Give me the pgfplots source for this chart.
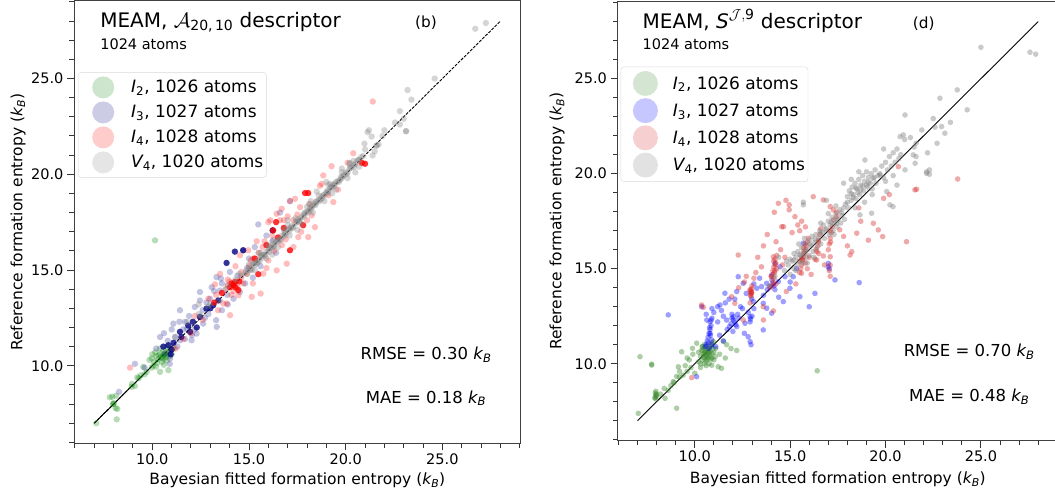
\documentclass[border=0pt]{standalone}
\usepackage{fontspec}
\setmainfont{DejaVu Sans}
\usepackage{amsmath}
\usepackage{pgfplots}
\pgfplotsset{compat=1.18}
\definecolor{lgreen}{HTML}{008000}
\definecolor{lnavy}{HTML}{000080}
\definecolor{lred}{HTML}{FF0000}
\definecolor{lgray}{HTML}{808080}
\definecolor{rgreen}{HTML}{3C8A2E}
\definecolor{rblue}{HTML}{0000FF}
\definecolor{rred}{HTML}{D62728}
\definecolor{rgray}{HTML}{808080}
\newcommand{\kB}{$\textit{k}_{\textit{B}}$}
\pgfplotsset{
  myaxis/.style={
    scale only axis,
    xmin=5.95,xmax=29.05,ymin=5.95,ymax=29.05,
    xtick={10,15,20,25}, ytick={10,15,20,25},
    minor xtick={6,...,29}, minor ytick={6,...,29},
    tick align=outside, xtick pos=left, ytick pos=left,
    major tick length=7pt, minor tick length=4.5pt,
    every tick/.style={black!80, line width=1pt},
    axis line style={black!75, line width=1pt},
    tick label style={font=\fontsize{14.5}{17}\selectfont},
    /pgf/number format/fixed, /pgf/number format/fixed zerofill,
    /pgf/number format/precision=1, /pgf/number format/assume math mode=true,
    label style={font=\fontsize{15.5}{18}\selectfont},
    legend cell align=left,
  },
  lmk/.style 2 args={color=#1, only marks, mark=*, mark size=3.2pt, mark options={solid, fill=#1, draw opacity=0, fill opacity=#2}},
  lmkd/.style={color=#1, only marks, mark=*, mark size=3.2pt, mark options={solid, fill=#1, draw opacity=0, fill opacity=0.8}, forget plot},
  rmk/.style 2 args={color=#1, only marks, mark=*, mark size=2.8pt, mark options={solid, fill=#1, draw opacity=0, fill opacity=#2}},
  limg/.style={legend image code/.code={\path[draw=none,fill=none] (0pt,-12.5pt) rectangle (50pt,12.5pt); \fill[#1,fill opacity=0.2,draw=none] (24pt,0pt) circle (11pt);}},
  rimg/.style={legend image code/.code={\path[draw=none,fill=none] (0pt,-13.6pt) rectangle (49pt,13.6pt); \fill[#1,fill opacity=0.22,draw=none] (23.5pt,0pt) circle (12.5pt);}},
}
\begin{document}
\begin{tikzpicture}
%%%%%%%%%%%%%%%% LEFT PANEL (b)
\begin{axis}[myaxis, at={(74pt,54.7pt)}, anchor=south west, width=446.7pt, height=442.3pt,
  xlabel={Bayesian fitted formation entropy (\kB)},
  ylabel={Reference formation entropy (\kB)},
  xlabel style={at={(axis description cs:0.5,-0.094)}, anchor=base},
  ylabel style={at={(axis description cs:-0.1254,0.5)}, anchor=center},
  legend style={at={(axis description cs:0.009,0.839)}, anchor=north west, draw=black!15, rounded corners=3pt,
    fill=white, fill opacity=0.8, text opacity=1, font=\fontsize{17}{20}\selectfont, inner xsep=1pt, inner ysep=2.5pt},
]
\addplot[lmk={lgreen}{0.28}, limg=lgreen] coordinates {
(7.1,7.0)(7.98,8.0)(7.98,8.0)(8.0,8.05)(8.12,8.43)(7.93,8.38)(8.19,7.75)(8.16,7.2)(8.1,7.78)(7.8,8.35)
(8.93,8.9)(9.1,8.94)(8.95,9.05)(9.22,9.39)(9.3,9.35)(9.53,9.94)(9.71,9.68)(9.6,9.55)(9.97,10.38)(9.97,9.9)
(10.2,10.5)(10.4,10.64)(10.57,10.8)(10.74,10.27)(10.4,9.68)(10.83,9.77)(10.1,10.2)(10.3,10.35)(10.45,10.45)(10.55,10.5)
(10.6,10.6)(10.65,10.55)(10.7,10.7)(10.5,10.4)(10.35,10.55)(10.8,10.6)(10.85,10.75)(10.9,10.5)(10.6,10.35)(10.25,10.15)
(10.0,10.6)(10.15,10.7)(10.5,10.2)(10.7,10.45)(10.95,10.85)(11.0,10.6)(10.4,10.9)(10.75,11.0)(9.85,10.3)(10.05,10.0)
(10.2,9.95)(10.6,10.05)(11.1,10.9)(9.4,9.5)(10.14,16.55)
};
\addlegendentry{$\textit{I}_{\text{2}}$, 1026 atoms}
\addplot[lmk={lnavy}{0.24}, limg=lnavy] coordinates {
(8.28,8.64)(9.1,10.1)(9.6,9.9)(10.4,11.5)(10.66,10.64)(10.92,10.38)(11.17,11.5)(11.09,12.2)(11.43,11.33)(11.69,11.4)
(12.03,11.33)(12.29,11.68)(12.63,12.2)(11.43,12.9)(11.69,12.29)(12.46,13.41)(12.98,13.5)(13.5,13.93)(14.19,14.28)(14.01,14.9)
(13.32,14.63)(14.53,13.85)(13.33,12.03)(13.3,12.38)(13.88,13.7)(12.72,12.5)(12.2,13.07)(11.8,11.95)(12.05,11.6)(13.55,14.55)
(13.07,14.1)(12.46,13.85)(15.48,17.38)(16.25,16.55)(17.12,18.6)(16.6,18.0)(14.7,16.03)(15.0,15.6)(15.3,16.2)(15.6,15.2)
(14.8,14.3)(14.4,14.7)(13.9,13.2)(13.6,12.9)(12.9,12.7)(12.6,12.9)(11.9,12.6)(11.3,11.0)(11.6,11.9)(10.8,11.3)
(10.2,10.9)(10.6,11.7)(12.2,11.9)(12.8,13.3)(13.2,13.9)(14.9,15.1)(15.9,16.8)(16.4,15.9)(15.2,14.6)(10.9,10.1)
(11.4,12.3)(11.0,11.9)(13.6,14.3)(14.2,13.5)
};
\addlegendentry{$\textit{I}_{\text{3}}$, 1027 atoms}
\addplot[lmkd=lnavy] coordinates {
(11.0,10.85)(10.83,11.07)(10.57,11.0)(11.43,11.77)(11.95,11.77)(11.86,12.1)(12.46,12.55)(12.8,12.98)(13.15,13.16)(13.41,13.41)
(13.84,15.37)(14.27,15.96)(16.22,17.07)(11.1,11.2)(10.95,10.6)(12.1,12.3)(13.0,13.0)(11.5,11.5)(12.3,12.0)(14.7,16.03)
};
\addplot[lmk={lred}{0.26}, limg=lred] coordinates {
(8.85,9.9)(17.12,18.6)(20.39,21.1)(18.84,19.94)(19.36,18.55)(19.1,18.9)(18.15,18.45)(18.06,16.72)(17.55,16.72)(17.3,16.2)
(16.95,15.33)(16.43,14.98)(15.74,14.81)(15.6,13.77)(15.14,13.6)(14.45,13.68)(14.02,12.64)(13.85,13.25)(13.24,14.25)(13.5,14.8)
(14.53,15.77)(14.96,16.03)(15.22,15.6)(16.0,17.5)(16.43,17.94)(16.69,18.2)(17.38,18.72)(17.64,18.28)(18.24,17.85)(18.41,17.24)
(13.68,13.25)(19.27,20.42)(18.76,19.5)(18.67,19.4)(21.4,23.8)(16.1,17.6)(16.6,17.6)(15.0,15.2)(15.5,15.9)(16.0,15.5)
(16.9,16.6)(17.5,17.9)(18.0,17.6)(13.9,14.5)(14.7,14.3)(14.9,14.8)(15.8,16.5)(16.3,16.0)(12.9,13.5)(13.4,12.9)
(12.6,12.4)(12.0,11.7)(11.2,10.9)(14.1,13.7)(14.6,14.9)(15.2,14.3)(15.9,15.1)(16.7,16.3)(17.7,17.0)(19.6,19.2)
(20.1,20.6)(17.0,17.8)(15.4,16.5)(14.3,15.2)(13.8,14.0)(13.3,13.7)(12.2,12.6)(11.6,11.4)
(14.0,14.4)(14.4,14.1)(14.2,13.9)(13.9,14.2)(14.6,14.6)(15.1,15.5)(16.2,16.8)(16.8,17.6)(17.3,17.6)(15.7,16.2)
};
\addlegendentry{$\textit{I}_{\text{4}}$, 1028 atoms}
\addplot[lmkd=lred] coordinates {
(14.02,14.11)(14.28,14.38)(14.45,13.95)(14.1,14.3)(14.3,14.1)(14.2,14.2)(14.5,14.4)(15.48,14.78)(16.25,17.07)(16.5,16.7)
(17.12,16.03)(17.8,17.34)(18.06,19.02)(21.0,20.55)(20.83,20.6)(17.9,19.02)(16.4,17.5)(15.3,15.6)(13.6,13.8)(15.9,16.3)
(16.8,17.2)(13.2,13.3)
};
\addplot[lmk={lgray}{0.33}, limg=lgray] coordinates {
(14.8,14.85)(14.9,14.8)(15.0,15.1)(15.1,15.05)(15.15,15.0)(15.2,15.3)(15.3,15.25)(15.35,15.4)(15.4,15.35)(15.5,15.55)
(15.55,15.45)(15.6,15.7)(15.7,15.65)(15.75,15.8)(15.8,15.75)(15.9,15.95)(16.0,16.05)(16.05,15.95)(16.1,16.2)(16.2,16.15)
(16.25,16.35)(16.3,16.25)(16.4,16.45)(16.5,16.5)(16.55,16.6)(16.6,16.55)(16.7,16.8)(16.8,16.75)(16.85,16.95)(16.9,16.85)
(17.0,17.1)(17.1,17.05)(17.15,17.2)(17.2,17.3)(17.3,17.25)(17.4,17.45)(17.5,17.5)(17.55,17.65)(17.6,17.55)(17.7,17.75)
(17.8,17.85)(17.85,17.8)(17.9,18.0)(18.0,18.05)(18.1,18.1)(18.15,18.25)(18.2,18.15)(18.3,18.35)(18.4,18.45)(18.45,18.4)
(18.5,18.6)(18.6,18.65)(18.7,18.7)(18.75,18.85)(18.8,18.75)(18.9,18.95)(19.0,19.05)(19.05,19.15)(19.1,19.1)(19.2,19.3)
(19.3,19.3)(19.35,19.45)(19.4,19.4)(19.5,19.6)(19.6,19.65)(19.7,19.7)(19.75,19.85)(19.8,19.8)(19.9,19.95)(20.0,20.1)
(20.1,20.1)(20.2,20.3)(20.3,20.35)(20.4,20.5)(20.5,20.55)(20.6,20.7)(20.7,20.75)(20.8,20.9)(20.9,20.95)
(14.85,14.95)(15.05,15.0)(15.25,15.35)(15.45,15.4)(15.65,15.75)(15.85,15.8)(16.05,16.15)(16.25,16.2)(16.45,16.55)(16.65,16.6)
(16.85,16.9)(17.05,17.15)(17.25,17.2)(17.45,17.55)(17.65,17.6)(17.85,17.95)(18.05,18.0)(18.25,18.3)(18.45,18.55)(18.65,18.6)
(18.85,18.9)(19.05,19.0)(19.25,19.35)(19.45,19.5)(19.65,19.6)(19.85,19.9)(20.05,20.0)(20.25,20.35)(20.45,20.4)(20.65,20.75)
(15.0,15.3)(15.3,15.0)(15.6,15.9)(15.9,15.6)(16.2,16.5)(16.5,16.2)(16.8,17.1)(17.1,16.8)(17.4,17.7)(17.7,17.4)
(18.0,18.3)(18.3,18.0)(18.6,18.9)(18.9,18.6)(19.2,19.5)(19.5,19.2)(19.8,20.1)(20.1,19.8)(20.4,20.7)(20.7,20.4)
(16.0,16.3)(17.0,17.35)(18.1,18.45)(19.1,19.45)(20.2,20.55)(14.6,14.7)(14.3,14.5)(13.9,14.2)(13.5,13.4)(13.0,13.2)
(12.4,12.7)(11.8,12.3)(11.2,11.5)(12.4,13.2)
(15.5,15.9)(16.2,15.8)(17.0,17.6)(18.2,18.6)(19.3,19.0)(19.8,20.3)(20.2,20.6)(20.5,20.1)(14.5,14.8)(13.8,14.0)
(12.9,13.1)(12.5,12.6)(18.5,19.1)(19.0,19.6)(17.5,17.1)
(21.2,22.3)(21.34,21.97)(21.7,21.56)(20.97,21.6)(22.55,22.7)(22.8,22.6)(22.8,23.3)(23.2,24.4)(23.4,23.9)(24.6,25.0)
(26.7,27.6)(27.25,27.9)(21.0,21.3)(21.5,21.2)(22.0,22.3)(23.0,22.9)(21.9,22.0)(23.12,22.25)(23.12,22.25)(21.13,22.2)
(21.6,21.5)(21.6,21.5)(21.39,20.98)
};
\addlegendentry{$\textit{V}_{\text{4}}$, 1020 atoms}
\addplot[black, line width=0.9pt, dash pattern=on 3pt off 1.3pt, forget plot] coordinates {(7,7)(28,28)};
\addplot[black, line width=0.9pt, forget plot] coordinates {(7,7)(10.4,10.4)};
\node[anchor=base west, font=\fontsize{20}{24}\selectfont] at (axis description cs:0.051,0.941) {MEAM, $\mathcal{A}_{\text{20,\,10}}$ descriptor};
\node[anchor=base, font=\fontsize{15.3}{18}\selectfont] at (axis description cs:0.788,0.939) {(b)};
\node[anchor=base west, font=\fontsize{14.5}{17}\selectfont] at (axis description cs:0.051,0.891) {1024 atoms};
\node[anchor=center, font=\fontsize{16.5}{20}\selectfont] at (axis description cs:0.788,0.2) {RMSE = 0.30 \kB};
\node[anchor=center, font=\fontsize{16.5}{20}\selectfont] at (axis description cs:0.788,0.102) {MAE = 0.18 \kB};
\end{axis}
%%%%%%%%%%%%%%%% RIGHT PANEL (d)
\begin{axis}[myaxis, at={(617.5pt,57.3pt)}, anchor=south west, width=440.7pt, height=439pt,
  xlabel={Bayesian fitted formation entropy (\kB)},
  ylabel={Reference formation entropy (\kB)},
  xlabel style={at={(axis description cs:0.5,-0.097)}, anchor=base},
  ylabel style={at={(axis description cs:-0.137,0.5)}, anchor=center},
  legend style={at={(axis description cs:0.0073,0.852)}, anchor=north west, draw=black!15, rounded corners=3pt,
    fill=white, fill opacity=0.8, text opacity=1, font=\fontsize{17}{20}\selectfont, inner xsep=1pt, inner ysep=3pt},
]
\addplot[rmk={rgreen}{0.42}, rimg=rgreen] coordinates {
(10.2,10.1)(10.3,10.4)(10.35,10.7)(10.4,10.2)(10.45,10.5)(10.5,10.8)(10.5,10.0)(10.55,10.3)(10.6,10.6)(10.6,10.9)
(10.65,10.2)(10.7,10.5)(10.7,10.75)(10.75,10.0)(10.8,10.4)(10.8,10.65)(10.85,10.9)(10.9,10.3)(10.9,10.55)(10.95,10.8)
(11.0,10.2)(11.0,10.6)(10.4,10.9)(10.3,10.0)(10.5,11.0)(10.6,10.45)(10.7,10.3)(10.8,11.0)(10.55,10.6)(10.65,10.75)
(10.45,10.35)(10.75,10.55)(10.3,9.8)(10.9,11.1)(10.6,9.9)(10.2,10.6)(11.1,10.8)(10.97,11.16)
(10.5,10.55)(10.62,10.38)(10.72,10.62)(10.42,10.72)(10.85,10.25)(10.58,10.15)
(9.31,10.63)(9.6,10.3)(9.14,9.84)(9.39,9.4)(8.87,9.06)(9.05,9.33)(11.23,9.84)(11.4,9.76)(11.5,11.18)(11.67,11.0)
(10.89,9.92)(11.07,10.37)(9.71,10.2)(9.88,10.81)(10.1,11.08)(10.4,10.9)(9.9,10.5)(9.5,9.9)(9.8,9.8)(11.3,10.5)
(11.9,10.8)(12.2,10.7)(11.6,10.3)(9.2,9.6)(9.6,9.6)(10.0,9.5)
(7.95,8.15)(7.95,8.25)(7.97,8.35)(7.93,8.45)(7.96,8.55)(8.0,8.3)(7.9,8.2)(7.98,8.4)(7.74,9.93)(7.74,9.98)
(7.13,10.37)(7.04,7.39)(9.05,7.66)(8.44,8.18)(8.4,8.7)(8.91,9.0)(8.75,8.85)(8.6,8.6)(9.2,9.3)(16.42,9.63)(8.2,8.4)
};
\addlegendentry{$\textit{I}_{\text{2}}$, 1026 atoms}
\addplot[rmk={rblue}{0.38}, rimg=rblue] coordinates {
(10.6,11.0)(10.65,11.2)(10.7,11.4)(10.75,11.6)(10.8,11.8)(10.85,12.0)(10.8,12.2)(10.9,12.4)(10.7,11.1)(10.89,11.25)
(10.8,11.6)(10.63,12.3)(10.75,10.8)(10.9,11.0)(10.55,10.9)
(11.67,12.3)(12.02,12.47)(12.2,11.95)(11.82,11.95)(12.02,12.3)(11.9,12.1)(12.1,12.2)(12.3,12.4)(11.7,11.8)(12.0,11.7)
(12.25,12.6)(11.95,12.6)
(12.63,12.13)(12.9,12.47)(12.9,12.2)(13.0,12.5)(12.8,12.7)(12.98,13.42)(13.1,12.9)(12.9,11.16)(12.8,11.42)(12.95,11.0)
(13.25,13.97)(13.5,14.06)(13.77,14.23)(14.03,14.67)(14.2,15.28)(14.47,15.1)(14.73,14.58)(13.59,13.18)(13.94,14.06)(14.38,14.32)
(13.8,13.9)(14.1,14.2)(14.2,13.9)(13.6,13.6)
(11.32,13.09)(11.58,13.71)(12.28,14.58)(12.54,14.23)(10.36,13.0)(10.6,12.6)(10.9,12.9)(11.2,13.0)(11.6,13.2)(12.1,13.4)
(12.4,13.0)(11.0,12.7)(11.4,12.8)(11.8,13.4)(12.2,13.8)(12.7,13.7)(13.1,14.2)(13.4,14.5)(11.5,12.5)(8.61,12.57)(11.2,12.2)
(13.07,13.27)(13.77,12.92)(14.03,12.66)(13.59,11.78)(14.64,13.27)(14.99,13.97)(15.51,13.53)(16.3,13.7)(15.34,15.0)(15.69,16.34)
(17.0,15.28)(17.05,15.0)(17.0,15.1)(17.35,14.41)(18.62,14.27)(16.0,13.0)(15.16,14.58)(12.6,11.6)(11.5,11.2)(14.4,13.5)
(15.0,14.3)(10.1,9.32)(11.1,10.9)(11.3,11.5)(12.5,12.9)
(10.82,11.5)(10.78,11.9)(10.86,12.3)(11.95,12.4)(12.15,12.05)(12.92,12.35)(14.05,14.4)(14.15,14.1)
};
\addlegendentry{$\textit{I}_{\text{3}}$, 1027 atoms}
\addplot[rmk={rred}{0.4}, rimg=rred] coordinates {
(12.95,13.55)(12.95,13.7)(12.9,13.85)(12.98,13.95)(13.0,14.1)(12.92,13.6)(12.98,13.75)
(14.05,14.1)(14.1,14.3)(14.15,14.5)(14.1,14.7)(14.2,14.9)(14.15,15.1)(14.25,15.3)(14.2,15.5)(14.3,15.7)(14.1,14.9)
(14.3,15.0)(14.0,14.6)(14.25,14.2)(14.12,15.63)(14.03,14.58)(13.94,14.0)
(15.5,14.8)(15.55,15.0)(15.6,15.2)(15.65,15.46)(15.7,15.6)(15.75,15.8)(15.8,16.0)(15.85,16.2)(15.9,16.4)(15.95,16.6)
(15.6,15.6)(15.7,16.1)(15.5,15.4)(15.8,15.3)(15.9,15.0)(16.0,15.6)
(16.3,15.5)(16.39,15.46)(16.4,15.9)(16.45,16.2)(16.5,16.5)(16.55,16.8)(16.6,17.1)(16.35,16.0)(16.5,15.8)(16.74,15.67)
(17.1,15.63)(17.0,16.0)(17.05,16.3)(17.1,16.6)(17.15,16.9)(17.2,17.2)(17.1,17.0)(17.26,17.56)(17.44,17.97)(17.6,17.05)
(17.26,18.1)(17.44,17.74)(17.1,18.27)
(14.38,18.44)(14.78,18.6)(14.95,18.36)(14.95,18.1)(15.25,17.74)(14.17,17.97)(14.65,17.21)(14.56,17.21)(16.21,18.79)(16.74,18.62)
(14.26,16.42)(12.28,15.72)(13.3,15.6)(13.6,16.2)(13.8,16.8)(14.5,16.0)(15.1,16.9)(15.4,17.3)(15.5,17.0)(15.6,17.5)
(15.8,17.2)(13.5,15.1)(12.6,14.3)(12.3,14.0)(11.93,13.53)(12.1,13.18)(12.98,13.71)(12.9,13.9)(14.73,15.6)(10.36,13.09)
(10.45,12.97)(9.84,9.27)(13.2,14.8)(14.6,15.2)
(18.23,15.9)(19.36,17.39)(19.85,16.69)(21.1,16.42)(21.63,19.18)(17.1,15.19)(17.05,14.9)(17.1,14.6)(15.6,14.76)(15.65,15.46)
(18.14,15.72)(19.62,17.04)(19.1,16.5)(18.49,16.87)(18.0,16.2)(18.7,17.5)(17.8,16.7)(16.8,15.2)(16.1,14.7)(15.3,14.2)
(14.12,12.78)(13.59,13.0)(12.54,12.3)(13.6,12.3)(14.8,13.8)(20.67,20.37)(21.54,19.15)(23.78,19.72)(19.9,18.7)(18.6,18.2)
(20.2,18.9)(12.9,13.2)(13.1,14.5)(12.7,14.6)
(14.18,14.8)(14.22,15.2)(15.72,15.9)(15.78,16.3)(16.48,16.4)(17.12,16.4)(12.96,13.8)(14.14,15.4)
};
\addlegendentry{$\textit{I}_{\text{4}}$, 1028 atoms}
\addplot[rmk={rgray}{0.42}, rimg=rgray] coordinates {
(14.7,14.9)(14.9,15.2)(15.0,14.7)(15.1,15.4)(15.2,15.0)(15.3,15.6)(15.35,15.2)(15.4,15.9)(15.5,15.4)(15.55,15.7)
(15.6,16.1)(15.65,15.3)(15.7,15.8)(15.8,16.3)(15.85,15.6)(15.9,16.0)(16.0,16.5)(16.0,15.7)(16.1,16.2)(16.15,16.7)
(16.2,15.9)(16.3,16.4)(16.35,16.8)(16.4,16.1)(15.2,15.8)(15.45,16.3)(15.75,16.6)(15.0,15.5)(14.8,15.4)(15.3,14.9)
(15.9,15.3)(16.25,15.6)
(16.5,16.6)(16.55,17.0)(16.6,16.3)(16.7,16.9)(16.75,17.3)(16.8,16.6)(16.9,17.1)(17.0,17.5)(17.05,16.8)(17.1,17.3)
(17.2,17.7)(17.25,17.0)(17.3,17.4)(17.4,17.9)(17.45,17.2)(17.5,17.6)(17.6,18.1)(17.65,17.4)(17.7,17.8)(17.8,18.2)
(17.85,17.6)(16.6,17.4)(17.0,17.9)(17.4,18.3)(17.3,16.8)
(17.9,18.4)(18.0,18.8)(18.05,18.2)(18.1,19.1)(18.2,18.6)(18.25,19.3)(18.3,18.9)(18.4,19.5)(18.45,18.7)(18.5,19.2)
(18.6,19.7)(18.65,18.9)(18.7,19.4)(18.8,19.9)(18.85,19.1)(18.9,19.6)(19.0,20.1)(19.05,19.3)(19.1,19.8)(19.2,19.5)
(19.25,20.0)(19.3,19.2)(19.4,19.8)(19.45,20.2)(19.5,19.5)(19.6,19.9)(18.4,18.2)(18.9,18.5)(19.3,18.9)(18.2,19.7)(18.6,20.1)
(19.7,20.0)(19.8,20.4)(19.9,19.8)(20.0,20.6)(20.1,20.2)(20.2,20.9)(20.3,20.4)(20.4,21.1)(20.5,20.6)(20.6,21.3)
(20.7,20.8)(20.8,21.0)(20.0,19.6)(20.4,19.9)
(15.2,15.45)(15.5,15.75)(15.8,15.95)(16.05,16.3)(16.3,16.55)(16.6,16.85)(16.85,17.05)(17.15,17.45)(17.4,17.65)(17.7,17.95)
(18.0,18.5)(18.3,18.75)(18.55,19.0)(18.8,19.35)(19.1,19.55)(19.35,19.75)(18.45,19.25)(18.7,19.15)(19.0,19.4)(18.2,18.95)
(21.45,20.99)(21.55,20.55)(22.15,20.02)(22.3,20.2)(21.02,20.2)(20.06,19.06)(19.27,17.92)(18.66,17.83)(17.44,17.39)(15.69,18.36)
(15.69,18.5)(20.23,18.36)(21.02,23.09)(20.76,21.95)(22.85,23.97)(23.76,24.41)(24.28,23.36)(22.94,22.48)(22.59,22.45)(23.11,22.13)
(22.7,21.6)(22.15,20.1)(22.3,19.97)(21.6,20.9)(21.6,21.6)(21.5,21.4)(19.71,19.93)(18.92,20.72)(20.39,18.27)(25.0,26.65)
(27.57,26.39)(27.87,26.29)(20.93,22.04)(21.3,21.9)(21.9,22.3)(22.2,21.1)(14.2,14.6)(13.9,14.1)(14.4,15.6)(16.9,18.6)
(17.8,19.5)(19.9,21.3)(21.0,21.8)(20.6,19.4)(22.5,22.9)(23.4,22.7)
};
\addlegendentry{$\textit{V}_{\text{4}}$, 1020 atoms}
\addplot[black, line width=0.9pt, forget plot] coordinates {(7,7)(28,28)};
\node[anchor=base west, font=\fontsize{20}{24}\selectfont] at (axis description cs:0.049,0.938) {MEAM, $\textit{S}^{\mathcal{J},\text{9}}$ descriptor};
\node[anchor=base, font=\fontsize{15.3}{18}\selectfont] at (axis description cs:0.695,0.938) {(d)};
\node[anchor=base west, font=\fontsize{14.5}{17}\selectfont] at (axis description cs:0.049,0.892) {1024 atoms};
\node[anchor=center, font=\fontsize{16.5}{20}\selectfont] at (axis description cs:0.798,0.203) {RMSE = 0.70 \kB};
\node[anchor=center, font=\fontsize{16.5}{20}\selectfont] at (axis description cs:0.798,0.1) {MAE = 0.48 \kB};
\end{axis}
\pgfresetboundingbox
\path[use as bounding box] (0pt,0pt) rectangle (1055pt,498pt);
\end{tikzpicture}
\end{document}
